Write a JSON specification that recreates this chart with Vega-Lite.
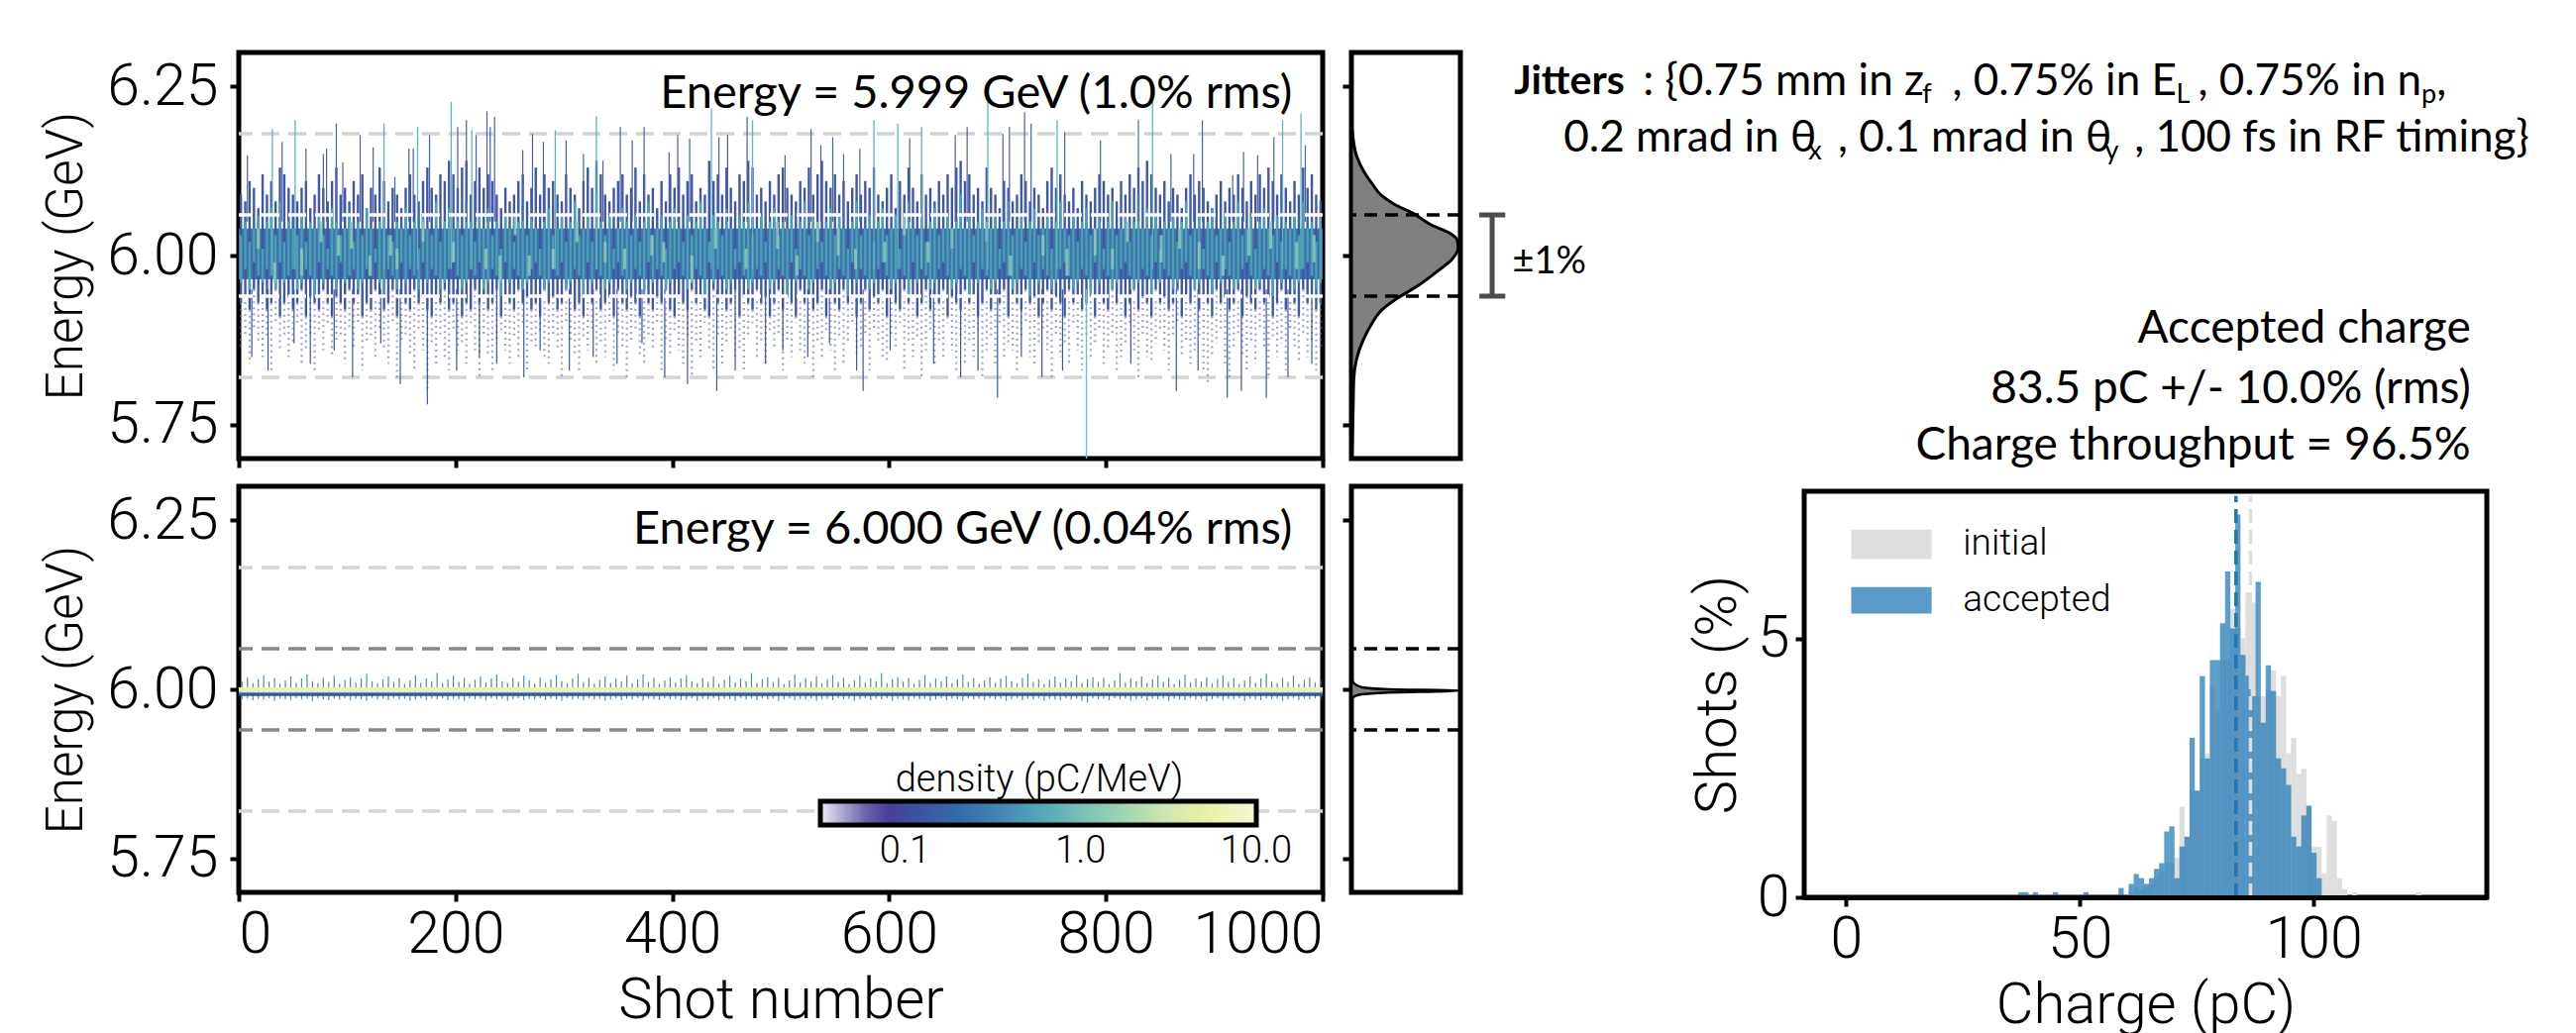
{"$schema":"https://vega.github.io/schema/vega-lite/v6.json","background":"white","padding":{"left":39,"top":50,"right":0,"bottom":0},
"config":{"font":"Roboto","view":{"stroke":"black","strokeWidth":5},"axis":{"grid":false,"domain":false,"tickColor":"black","tickSize":9,"tickWidth":4,"labelFont":"Roboto","labelFontWeight":300,"labelFontSize":59,"labelColor":"black","titleFont":"Roboto","titleFontWeight":300,"titleFontSize":58,"titleColor":"black","labelPadding":12},"text":{"font":"Lato","fontSize":47,"color":"black"}},
"datasets":{"lines":[{"e":5.82},{"e":6.18}],"inner":[{"e":5.94},{"e":6.06}],
"baseA":[{"s":0,"s2":1000,"a":5.965,"b":6.04}],
"rowsA":[{"s":2,"h":6.09,"l":5.93,"f":5.86,"a":5.96,"b":6.03},{"s":6,"h":6.08,"l":5.94,"f":5.88,"a":5.98,"b":6.05},{"s":10,"h":6.11,"l":5.92,"f":5.84,"a":5.95,"b":6.02},{"s":14,"h":6.1,"l":5.95,"f":5.89,"a":5.99,"b":6.04},{"s":18,"h":6.07,"l":5.93,"f":5.87,"a":5.97,"b":6.06},{"s":22,"h":6.12,"l":5.94,"f":5.85,"a":5.96,"b":6.01},{"s":26,"h":6.09,"l":5.92,"f":5.88,"a":5.98,"b":6.05},{"s":30,"h":6.11,"l":5.93,"f":5.83,"a":5.97,"b":6.07},{"s":34,"h":6.08,"l":5.95,"f":5.9,"a":5.95,"b":6.03},{"s":38,"h":6.13,"l":5.91,"f":5.86,"a":5.99,"b":6.08},{"s":42,"h":6.12,"l":5.93,"f":5.88,"a":5.96,"b":6.02},{"s":46,"h":6.1,"l":5.94,"f":5.85,"a":5.97,"b":6.05},{"s":50,"h":6.09,"l":5.92,"f":5.87,"a":5.98,"b":6.04},{"s":54,"h":6.08,"l":5.93,"f":5.9,"a":5.95,"b":6.03},{"s":58,"h":6.1,"l":5.95,"f":5.84,"a":5.96,"b":6.06},{"s":62,"h":6.11,"l":5.91,"f":5.86,"a":5.98,"b":6.02},{"s":66,"h":6.07,"l":5.94,"f":5.88,"a":5.97,"b":6.05},{"s":70,"h":6.09,"l":5.93,"f":5.83,"a":5.94,"b":6.04},{"s":74,"h":6.12,"l":5.92,"f":5.89,"a":5.99,"b":6.06},{"s":78,"h":6.1,"l":5.95,"f":5.86,"a":5.96,"b":6.03},{"s":82,"h":6.08,"l":5.93,"f":5.9,"a":5.98,"b":6.01},{"s":86,"h":6.11,"l":5.91,"f":5.85,"a":5.97,"b":6.07},{"s":90,"h":6.13,"l":5.94,"f":5.87,"a":5.95,"b":6.05},{"s":94,"h":6.09,"l":5.93,"f":5.88,"a":5.99,"b":6.03},{"s":98,"h":6.1,"l":5.92,"f":5.84,"a":5.96,"b":6.04},{"s":102,"h":6.08,"l":5.95,"f":5.89,"a":5.97,"b":6.06},{"s":106,"h":6.11,"l":5.93,"f":5.86,"a":5.98,"b":6.02},{"s":110,"h":6.09,"l":5.94,"f":5.9,"a":5.95,"b":6.05},{"s":114,"h":6.12,"l":5.91,"f":5.83,"a":5.96,"b":6.03},{"s":118,"h":6.07,"l":5.93,"f":5.87,"a":5.98,"b":6.07},{"s":122,"h":6.1,"l":5.92,"f":5.88,"a":5.97,"b":6.04},{"s":126,"h":6.09,"l":5.95,"f":5.85,"a":5.99,"b":6.01},{"s":130,"h":6.13,"l":5.94,"f":5.89,"a":5.96,"b":6.05},{"s":134,"h":6.11,"l":5.92,"f":5.86,"a":5.94,"b":6.06},{"s":138,"h":6.08,"l":5.93,"f":5.84,"a":5.98,"b":6.03},{"s":142,"h":6.1,"l":5.95,"f":5.9,"a":5.97,"b":6.02},{"s":146,"h":6.09,"l":5.91,"f":5.82,"a":5.95,"b":6.05},{"s":150,"h":6.07,"l":5.94,"f":5.87,"a":5.99,"b":6.04},{"s":154,"h":6.1,"l":5.93,"f":5.88,"a":5.96,"b":6.07},{"s":158,"h":6.12,"l":5.92,"f":5.85,"a":5.98,"b":6.03},{"s":162,"h":6.09,"l":5.95,"f":5.83,"a":5.97,"b":6.05},{"s":166,"h":6.08,"l":5.93,"f":5.89,"a":5.95,"b":6.01},{"s":170,"h":6.11,"l":5.94,"f":5.86,"a":5.99,"b":6.06},{"s":174,"h":6.13,"l":5.92,"f":5.8,"a":5.96,"b":6.04},{"s":178,"h":6.1,"l":5.91,"f":5.87,"a":5.98,"b":6.03},{"s":182,"h":6.09,"l":5.94,"f":5.84,"a":5.97,"b":6.08},{"s":186,"h":6.12,"l":5.93,"f":5.88,"a":5.95,"b":6.02},{"s":190,"h":6.11,"l":5.95,"f":5.85,"a":5.96,"b":6.05},{"s":194,"h":6.14,"l":5.92,"f":5.83,"a":5.98,"b":6.07},{"s":198,"h":6.12,"l":5.93,"f":5.89,"a":5.99,"b":6.04},{"s":202,"h":6.1,"l":5.94,"f":5.86,"a":5.97,"b":6.06},{"s":206,"h":6.13,"l":5.91,"f":5.87,"a":5.95,"b":6.03},{"s":210,"h":6.14,"l":5.93,"f":5.84,"a":5.96,"b":6.08},{"s":214,"h":6.09,"l":5.92,"f":5.9,"a":5.98,"b":6.05},{"s":218,"h":6.11,"l":5.95,"f":5.86,"a":5.97,"b":6.02},{"s":222,"h":6.13,"l":5.93,"f":5.82,"a":5.99,"b":6.06},{"s":226,"h":6.1,"l":5.94,"f":5.88,"a":5.95,"b":6.04},{"s":230,"h":6.12,"l":5.92,"f":5.85,"a":5.96,"b":6.07},{"s":234,"h":6.11,"l":5.93,"f":5.83,"a":5.98,"b":6.03},{"s":238,"h":6.09,"l":5.95,"f":5.87,"a":5.97,"b":6.05},{"s":242,"h":6.07,"l":5.91,"f":5.89,"a":5.94,"b":6.01},{"s":246,"h":6.1,"l":5.94,"f":5.86,"a":5.99,"b":6.06},{"s":250,"h":6.08,"l":5.93,"f":5.84,"a":5.96,"b":6.04},{"s":254,"h":6.09,"l":5.92,"f":5.88,"a":5.98,"b":6.02},{"s":258,"h":6.11,"l":5.95,"f":5.85,"a":5.97,"b":6.05},{"s":262,"h":6.12,"l":5.93,"f":5.9,"a":5.95,"b":6.08},{"s":266,"h":6.08,"l":5.94,"f":5.83,"a":5.96,"b":6.03},{"s":270,"h":6.1,"l":5.92,"f":5.87,"a":5.98,"b":6.06},{"s":274,"h":6.13,"l":5.93,"f":5.86,"a":5.99,"b":6.04},{"s":278,"h":6.09,"l":5.91,"f":5.89,"a":5.97,"b":6.01},{"s":282,"h":6.12,"l":5.95,"f":5.85,"a":5.95,"b":6.05},{"s":286,"h":6.1,"l":5.93,"f":5.84,"a":5.96,"b":6.07},{"s":290,"h":6.11,"l":5.94,"f":5.88,"a":5.98,"b":6.03},{"s":294,"h":6.09,"l":5.92,"f":5.86,"a":5.97,"b":6.04},{"s":298,"h":6.08,"l":5.93,"f":5.82,"a":5.99,"b":6.06},{"s":302,"h":6.12,"l":5.95,"f":5.9,"a":5.95,"b":6.02},{"s":306,"h":6.1,"l":5.94,"f":5.87,"a":5.96,"b":6.05},{"s":310,"h":6.09,"l":5.92,"f":5.85,"a":5.98,"b":6.08},{"s":314,"h":6.07,"l":5.93,"f":5.83,"a":5.97,"b":6.03},{"s":318,"h":6.11,"l":5.91,"f":5.88,"a":5.94,"b":6.04},{"s":322,"h":6.13,"l":5.94,"f":5.86,"a":5.99,"b":6.06},{"s":326,"h":6.1,"l":5.93,"f":5.89,"a":5.96,"b":6.02},{"s":330,"h":6.14,"l":5.95,"f":5.84,"a":5.98,"b":6.09},{"s":334,"h":6.12,"l":5.92,"f":5.87,"a":5.97,"b":6.05},{"s":338,"h":6.09,"l":5.93,"f":5.85,"a":5.95,"b":6.03},{"s":342,"h":6.08,"l":5.94,"f":5.9,"a":5.96,"b":6.06},{"s":346,"h":6.1,"l":5.91,"f":5.83,"a":5.98,"b":6.01},{"s":350,"h":6.11,"l":5.95,"f":5.88,"a":5.99,"b":6.04},{"s":354,"h":6.12,"l":5.93,"f":5.86,"a":5.97,"b":6.07},{"s":358,"h":6.09,"l":5.92,"f":5.82,"a":5.95,"b":6.05},{"s":362,"h":6.1,"l":5.94,"f":5.87,"a":5.96,"b":6.03},{"s":366,"h":6.13,"l":5.93,"f":5.89,"a":5.98,"b":6.06},{"s":370,"h":6.08,"l":5.91,"f":5.85,"a":5.97,"b":6.02},{"s":374,"h":6.12,"l":5.95,"f":5.84,"a":5.94,"b":6.05},{"s":378,"h":6.09,"l":5.93,"f":5.88,"a":5.99,"b":6.08},{"s":382,"h":6.1,"l":5.92,"f":5.86,"a":5.96,"b":6.03},{"s":386,"h":6.07,"l":5.94,"f":5.9,"a":5.98,"b":6.04},{"s":390,"h":6.11,"l":5.93,"f":5.83,"a":5.97,"b":6.06},{"s":394,"h":6.08,"l":5.95,"f":5.87,"a":5.95,"b":6.01},{"s":398,"h":6.12,"l":5.92,"f":5.85,"a":5.96,"b":6.05},{"s":402,"h":6.1,"l":5.91,"f":5.89,"a":5.98,"b":6.07},{"s":406,"h":6.13,"l":5.94,"f":5.86,"a":5.99,"b":6.04},{"s":410,"h":6.09,"l":5.93,"f":5.84,"a":5.97,"b":6.02},{"s":414,"h":6.11,"l":5.92,"f":5.88,"a":5.95,"b":6.06},{"s":418,"h":6.12,"l":5.95,"f":5.82,"a":5.96,"b":6.03},{"s":422,"h":6.08,"l":5.93,"f":5.87,"a":5.98,"b":6.05},{"s":426,"h":6.1,"l":5.94,"f":5.85,"a":5.97,"b":6.08},{"s":430,"h":6.09,"l":5.92,"f":5.9,"a":5.94,"b":6.04},{"s":434,"h":6.14,"l":5.91,"f":5.86,"a":5.99,"b":6.02},{"s":438,"h":6.11,"l":5.95,"f":5.83,"a":5.96,"b":6.06},{"s":442,"h":6.12,"l":5.93,"f":5.88,"a":5.98,"b":6.05},{"s":446,"h":6.09,"l":5.94,"f":5.84,"a":5.97,"b":6.03},{"s":450,"h":6.13,"l":5.92,"f":5.87,"a":5.95,"b":6.07},{"s":454,"h":6.1,"l":5.93,"f":5.89,"a":5.96,"b":6.04},{"s":458,"h":6.08,"l":5.95,"f":5.85,"a":5.98,"b":6.01},{"s":462,"h":6.12,"l":5.91,"f":5.86,"a":5.99,"b":6.06},{"s":466,"h":6.11,"l":5.94,"f":5.83,"a":5.97,"b":6.05},{"s":470,"h":6.14,"l":5.93,"f":5.88,"a":5.95,"b":6.08},{"s":474,"h":6.13,"l":5.92,"f":5.9,"a":5.96,"b":6.03},{"s":478,"h":6.09,"l":5.95,"f":5.85,"a":5.98,"b":6.04},{"s":482,"h":6.1,"l":5.93,"f":5.87,"a":5.97,"b":6.06},{"s":486,"h":6.08,"l":5.94,"f":5.84,"a":5.99,"b":6.02},{"s":490,"h":6.11,"l":5.91,"f":5.89,"a":5.95,"b":6.05},{"s":494,"h":6.09,"l":5.93,"f":5.86,"a":5.96,"b":6.07},{"s":498,"h":6.12,"l":5.95,"f":5.88,"a":5.98,"b":6.03},{"s":502,"h":6.13,"l":5.92,"f":5.83,"a":5.97,"b":6.05},{"s":506,"h":6.1,"l":5.94,"f":5.87,"a":5.94,"b":6.04},{"s":510,"h":6.09,"l":5.93,"f":5.85,"a":5.99,"b":6.06},{"s":514,"h":6.08,"l":5.91,"f":5.9,"a":5.96,"b":6.01},{"s":518,"h":6.11,"l":5.95,"f":5.86,"a":5.98,"b":6.05},{"s":522,"h":6.1,"l":5.93,"f":5.84,"a":5.97,"b":6.08},{"s":526,"h":6.13,"l":5.94,"f":5.88,"a":5.95,"b":6.03},{"s":530,"h":6.09,"l":5.92,"f":5.82,"a":5.96,"b":6.06},{"s":534,"h":6.12,"l":5.93,"f":5.87,"a":5.98,"b":6.04},{"s":538,"h":6.14,"l":5.95,"f":5.85,"a":5.99,"b":6.02},{"s":542,"h":6.11,"l":5.91,"f":5.89,"a":5.97,"b":6.05},{"s":546,"h":6.1,"l":5.94,"f":5.86,"a":5.95,"b":6.07},{"s":550,"h":6.12,"l":5.93,"f":5.83,"a":5.96,"b":6.03},{"s":554,"h":6.09,"l":5.92,"f":5.88,"a":5.98,"b":6.06},{"s":558,"h":6.11,"l":5.95,"f":5.84,"a":5.97,"b":6.04},{"s":562,"h":6.08,"l":5.93,"f":5.87,"a":5.94,"b":6.01},{"s":566,"h":6.1,"l":5.94,"f":5.9,"a":5.99,"b":6.05},{"s":570,"h":6.12,"l":5.91,"f":5.85,"a":5.96,"b":6.08},{"s":574,"h":6.09,"l":5.93,"f":5.86,"a":5.98,"b":6.03},{"s":578,"h":6.11,"l":5.95,"f":5.88,"a":5.97,"b":6.04},{"s":582,"h":6.1,"l":5.92,"f":5.83,"a":5.95,"b":6.06},{"s":586,"h":6.13,"l":5.94,"f":5.89,"a":5.96,"b":6.02},{"s":590,"h":6.09,"l":5.93,"f":5.87,"a":5.98,"b":6.05},{"s":594,"h":6.08,"l":5.95,"f":5.85,"a":5.99,"b":6.07},{"s":598,"h":6.1,"l":5.91,"f":5.84,"a":5.97,"b":6.03},{"s":602,"h":6.12,"l":5.94,"f":5.88,"a":5.95,"b":6.04},{"s":606,"h":6.07,"l":5.93,"f":5.86,"a":5.96,"b":6.06},{"s":610,"h":6.11,"l":5.92,"f":5.9,"a":5.98,"b":6.01},{"s":614,"h":6.09,"l":5.95,"f":5.83,"a":5.97,"b":6.05},{"s":618,"h":6.13,"l":5.93,"f":5.87,"a":5.94,"b":6.08},{"s":622,"h":6.1,"l":5.94,"f":5.85,"a":5.99,"b":6.04},{"s":626,"h":6.08,"l":5.91,"f":5.88,"a":5.96,"b":6.03},{"s":630,"h":6.12,"l":5.93,"f":5.82,"a":5.98,"b":6.06},{"s":634,"h":6.09,"l":5.95,"f":5.86,"a":5.97,"b":6.02},{"s":638,"h":6.1,"l":5.92,"f":5.89,"a":5.95,"b":6.05},{"s":642,"h":6.08,"l":5.94,"f":5.84,"a":5.96,"b":6.07},{"s":646,"h":6.11,"l":5.93,"f":5.87,"a":5.98,"b":6.03},{"s":650,"h":6.09,"l":5.95,"f":5.85,"a":5.99,"b":6.04},{"s":654,"h":6.12,"l":5.91,"f":5.9,"a":5.97,"b":6.06},{"s":658,"h":6.1,"l":5.94,"f":5.86,"a":5.95,"b":6.01},{"s":662,"h":6.13,"l":5.93,"f":5.83,"a":5.96,"b":6.05},{"s":666,"h":6.14,"l":5.92,"f":5.88,"a":5.98,"b":6.09},{"s":670,"h":6.11,"l":5.95,"f":5.84,"a":5.97,"b":6.04},{"s":674,"h":6.12,"l":5.93,"f":5.87,"a":5.94,"b":6.06},{"s":678,"h":6.09,"l":5.94,"f":5.85,"a":5.99,"b":6.03},{"s":682,"h":6.1,"l":5.91,"f":5.89,"a":5.96,"b":6.05},{"s":686,"h":6.08,"l":5.93,"f":5.82,"a":5.98,"b":6.07},{"s":690,"h":6.13,"l":5.95,"f":5.86,"a":5.97,"b":6.02},{"s":694,"h":6.1,"l":5.92,"f":5.88,"a":5.95,"b":6.04},{"s":698,"h":6.09,"l":5.94,"f":5.84,"a":5.96,"b":6.06},{"s":702,"h":6.07,"l":5.93,"f":5.9,"a":5.98,"b":6.01},{"s":706,"h":6.11,"l":5.95,"f":5.85,"a":5.99,"b":6.05},{"s":710,"h":6.1,"l":5.91,"f":5.87,"a":5.97,"b":6.08},{"s":714,"h":6.08,"l":5.94,"f":5.86,"a":5.95,"b":6.03},{"s":718,"h":6.09,"l":5.93,"f":5.83,"a":5.96,"b":6.04},{"s":722,"h":6.12,"l":5.92,"f":5.88,"a":5.98,"b":6.06},{"s":726,"h":6.11,"l":5.95,"f":5.9,"a":5.97,"b":6.02},{"s":730,"h":6.08,"l":5.93,"f":5.85,"a":5.94,"b":6.05},{"s":734,"h":6.1,"l":5.94,"f":5.84,"a":5.99,"b":6.07},{"s":738,"h":6.09,"l":5.91,"f":5.87,"a":5.96,"b":6.03},{"s":742,"h":6.07,"l":5.93,"f":5.89,"a":5.98,"b":6.04},{"s":746,"h":6.11,"l":5.95,"f":5.86,"a":5.97,"b":6.06},{"s":750,"h":6.13,"l":5.92,"f":5.82,"a":5.95,"b":6.01},{"s":754,"h":6.1,"l":5.94,"f":5.88,"a":5.96,"b":6.05},{"s":758,"h":6.12,"l":5.93,"f":5.85,"a":5.98,"b":6.08},{"s":762,"h":6.09,"l":5.91,"f":5.87,"a":5.99,"b":6.04},{"s":766,"h":6.08,"l":5.95,"f":5.84,"a":5.97,"b":6.03},{"s":770,"h":6.1,"l":5.93,"f":5.9,"a":5.95,"b":6.06},{"s":774,"h":6.07,"l":5.94,"f":5.86,"a":5.96,"b":6.02},{"s":778,"h":6.11,"l":5.92,"f":5.83,"a":5.98,"b":6.05},{"s":782,"h":6.09,"l":5.93,"f":5.88,"a":5.97,"b":6.07},{"s":786,"h":6.08,"l":5.95,"f":5.85,"a":5.94,"b":6.03},{"s":790,"h":6.1,"l":5.91,"f":5.87,"a":5.99,"b":6.04},{"s":794,"h":6.12,"l":5.94,"f":5.89,"a":5.96,"b":6.06},{"s":798,"h":6.11,"l":5.93,"f":5.84,"a":5.98,"b":6.01},{"s":802,"h":6.09,"l":5.92,"f":5.86,"a":5.97,"b":6.05},{"s":806,"h":6.1,"l":5.95,"f":5.88,"a":5.95,"b":6.08},{"s":810,"h":6.08,"l":5.93,"f":5.83,"a":5.96,"b":6.03},{"s":814,"h":6.11,"l":5.94,"f":5.85,"a":5.98,"b":6.04},{"s":818,"h":6.09,"l":5.91,"f":5.87,"a":5.99,"b":6.06},{"s":822,"h":6.12,"l":5.93,"f":5.9,"a":5.97,"b":6.02},{"s":826,"h":6.1,"l":5.95,"f":5.86,"a":5.95,"b":6.05},{"s":830,"h":6.13,"l":5.92,"f":5.82,"a":5.96,"b":6.09},{"s":834,"h":6.11,"l":5.94,"f":5.88,"a":5.98,"b":6.04},{"s":838,"h":6.14,"l":5.93,"f":5.85,"a":5.97,"b":6.07},{"s":842,"h":6.12,"l":5.91,"f":5.84,"a":5.94,"b":6.03},{"s":846,"h":6.1,"l":5.95,"f":5.87,"a":5.99,"b":6.06},{"s":850,"h":6.09,"l":5.93,"f":5.89,"a":5.96,"b":6.01},{"s":854,"h":6.11,"l":5.94,"f":5.86,"a":5.98,"b":6.05},{"s":858,"h":6.08,"l":5.92,"f":5.83,"a":5.97,"b":6.04},{"s":862,"h":6.1,"l":5.93,"f":5.88,"a":5.95,"b":6.06},{"s":866,"h":6.09,"l":5.95,"f":5.9,"a":5.96,"b":6.02},{"s":870,"h":6.07,"l":5.91,"f":5.85,"a":5.98,"b":6.05},{"s":874,"h":6.1,"l":5.94,"f":5.87,"a":5.99,"b":6.08},{"s":878,"h":6.12,"l":5.93,"f":5.84,"a":5.97,"b":6.03},{"s":882,"h":6.09,"l":5.95,"f":5.86,"a":5.95,"b":6.04},{"s":886,"h":6.11,"l":5.92,"f":5.88,"a":5.96,"b":6.06},{"s":890,"h":6.1,"l":5.94,"f":5.83,"a":5.98,"b":6.01},{"s":894,"h":6.08,"l":5.93,"f":5.81,"a":5.97,"b":6.05},{"s":898,"h":6.07,"l":5.91,"f":5.85,"a":5.94,"b":6.07},{"s":902,"h":6.09,"l":5.95,"f":5.87,"a":5.99,"b":6.03},{"s":906,"h":6.11,"l":5.93,"f":5.89,"a":5.96,"b":6.04},{"s":910,"h":6.08,"l":5.94,"f":5.84,"a":5.98,"b":6.06},{"s":914,"h":6.1,"l":5.92,"f":5.82,"a":5.97,"b":6.02},{"s":918,"h":6.09,"l":5.93,"f":5.86,"a":5.95,"b":6.05},{"s":922,"h":6.12,"l":5.95,"f":5.88,"a":5.96,"b":6.08},{"s":926,"h":6.1,"l":5.91,"f":5.85,"a":5.98,"b":6.03},{"s":930,"h":6.08,"l":5.94,"f":5.83,"a":5.99,"b":6.04},{"s":934,"h":6.11,"l":5.93,"f":5.87,"a":5.97,"b":6.06},{"s":938,"h":6.09,"l":5.92,"f":5.84,"a":5.95,"b":6.01},{"s":942,"h":6.12,"l":5.95,"f":5.89,"a":5.96,"b":6.05},{"s":946,"h":6.1,"l":5.93,"f":5.86,"a":5.98,"b":6.07},{"s":950,"h":6.13,"l":5.94,"f":5.82,"a":5.97,"b":6.04},{"s":954,"h":6.11,"l":5.91,"f":5.88,"a":5.94,"b":6.03},{"s":958,"h":6.09,"l":5.93,"f":5.85,"a":5.99,"b":6.06},{"s":962,"h":6.12,"l":5.95,"f":5.87,"a":5.96,"b":6.02},{"s":966,"h":6.1,"l":5.92,"f":5.83,"a":5.98,"b":6.05},{"s":970,"h":6.08,"l":5.94,"f":5.89,"a":5.97,"b":6.04},{"s":974,"h":6.11,"l":5.93,"f":5.86,"a":5.95,"b":6.06},{"s":978,"h":6.09,"l":5.91,"f":5.84,"a":5.96,"b":6.03},{"s":982,"h":6.13,"l":5.95,"f":5.88,"a":5.98,"b":6.08},{"s":986,"h":6.1,"l":5.93,"f":5.85,"a":5.99,"b":6.04},{"s":990,"h":6.12,"l":5.94,"f":5.87,"a":5.97,"b":6.05},{"s":994,"h":6.09,"l":5.92,"f":5.83,"a":5.95,"b":6.02},{"s":998,"h":6.08,"l":5.93,"f":5.86,"a":5.96,"b":6.06}],
"mint":[{"s":18,"a":6.01,"b":6.04},{"s":33,"a":5.96,"b":5.99},{"s":58,"a":5.97,"b":6.01},{"s":76,"a":6.02,"b":6.05},{"s":92,"a":6.0,"b":6.03},{"s":104,"a":6.01,"b":6.05},{"s":121,"a":5.97,"b":6.0},{"s":140,"a":6.0,"b":6.03},{"s":146,"a":5.98,"b":6.01},{"s":170,"a":6.02,"b":6.05},{"s":198,"a":5.99,"b":6.02},{"s":228,"a":5.98,"b":6.01},{"s":241,"a":5.96,"b":6.0},{"s":255,"a":6.03,"b":6.06},{"s":268,"a":5.97,"b":6.0},{"s":290,"a":5.98,"b":6.01},{"s":312,"a":6.02,"b":6.05},{"s":338,"a":5.99,"b":6.02},{"s":356,"a":5.98,"b":6.01},{"s":381,"a":6.0,"b":6.03},{"s":392,"a":5.99,"b":6.02},{"s":418,"a":5.96,"b":6.0},{"s":440,"a":6.01,"b":6.04},{"s":468,"a":5.98,"b":6.01},{"s":497,"a":6.01,"b":6.05},{"s":515,"a":5.97,"b":6.0},{"s":534,"a":6.02,"b":6.05},{"s":553,"a":6.0,"b":6.04},{"s":569,"a":5.98,"b":6.01},{"s":596,"a":5.99,"b":6.02},{"s":614,"a":6.03,"b":6.06},{"s":636,"a":5.99,"b":6.02},{"s":658,"a":6.01,"b":6.04},{"s":690,"a":6.02,"b":6.05},{"s":712,"a":5.97,"b":6.0},{"s":742,"a":6.0,"b":6.03},{"s":764,"a":5.97,"b":6.01},{"s":790,"a":6.0,"b":6.04},{"s":806,"a":5.98,"b":6.01},{"s":820,"a":6.02,"b":6.05},{"s":851,"a":5.99,"b":6.03},{"s":868,"a":6.01,"b":6.04},{"s":886,"a":5.98,"b":6.02},{"s":908,"a":5.97,"b":6.0},{"s":932,"a":6.0,"b":6.04},{"s":952,"a":6.01,"b":6.05},{"s":976,"a":5.98,"b":6.02},{"s":992,"a":5.99,"b":6.03}],
"spikes":[{"s":8,"e":6.148,"d":0},{"s":31,"e":6.187,"d":1},{"s":40,"e":6.168,"d":0},{"s":52,"e":6.2,"d":1},{"s":62,"e":6.158,"d":0},{"s":78,"e":6.15,"d":0},{"s":81,"e":6.158,"d":0},{"s":90,"e":6.195,"d":0},{"s":96,"e":6.138,"d":0},{"s":112,"e":6.178,"d":0},{"s":124,"e":6.16,"d":0},{"s":134,"e":6.195,"d":1},{"s":144,"e":6.116,"d":0},{"s":157,"e":6.158,"d":0},{"s":161,"e":6.158,"d":0},{"s":165,"e":6.19,"d":1},{"s":176,"e":6.178,"d":0},{"s":196,"e":6.227,"d":1},{"s":202,"e":6.19,"d":0},{"s":210,"e":6.2,"d":0},{"s":215,"e":6.185,"d":1},{"s":219,"e":6.178,"d":0},{"s":229,"e":6.213,"d":0},{"s":232,"e":6.19,"d":0},{"s":236,"e":6.205,"d":0},{"s":262,"e":6.156,"d":0},{"s":271,"e":6.18,"d":0},{"s":281,"e":6.168,"d":0},{"s":292,"e":6.185,"d":1},{"s":302,"e":6.17,"d":0},{"s":318,"e":6.15,"d":0},{"s":330,"e":6.206,"d":1},{"s":336,"e":6.14,"d":0},{"s":352,"e":6.19,"d":0},{"s":363,"e":6.17,"d":0},{"s":374,"e":6.19,"d":0},{"s":397,"e":6.153,"d":0},{"s":405,"e":6.178,"d":0},{"s":416,"e":6.173,"d":0},{"s":436,"e":6.217,"d":1},{"s":443,"e":6.175,"d":0},{"s":451,"e":6.178,"d":0},{"s":469,"e":6.205,"d":0},{"s":474,"e":6.2,"d":1},{"s":504,"e":6.148,"d":0},{"s":528,"e":6.187,"d":0},{"s":537,"e":6.163,"d":0},{"s":548,"e":6.175,"d":0},{"s":558,"e":6.15,"d":0},{"s":573,"e":6.158,"d":0},{"s":586,"e":6.2,"d":1},{"s":608,"e":6.195,"d":1},{"s":619,"e":6.173,"d":0},{"s":630,"e":6.19,"d":1},{"s":661,"e":6.178,"d":0},{"s":672,"e":6.19,"d":0},{"s":691,"e":6.229,"d":1},{"s":705,"e":6.18,"d":0},{"s":711,"e":6.19,"d":0},{"s":725,"e":6.212,"d":0},{"s":731,"e":6.195,"d":0},{"s":755,"e":6.2,"d":1},{"s":762,"e":6.182,"d":0},{"s":795,"e":6.17,"d":0},{"s":830,"e":6.2,"d":0},{"s":843,"e":6.227,"d":1},{"s":860,"e":6.15,"d":0},{"s":881,"e":6.15,"d":0},{"s":889,"e":6.2,"d":0},{"s":917,"e":6.119,"d":0},{"s":927,"e":6.153,"d":0},{"s":940,"e":6.148,"d":0},{"s":955,"e":6.175,"d":0},{"s":963,"e":6.2,"d":1},{"s":980,"e":6.21,"d":1},{"s":984,"e":6.163,"d":0}],
"streaks":[{"s":12,"e":5.85},{"s":27,"e":5.83},{"s":51,"e":5.87},{"s":66,"e":5.84},{"s":88,"e":5.86},{"s":105,"e":5.82},{"s":131,"e":5.87},{"s":149,"e":5.81},{"s":174,"e":5.78},{"s":201,"e":5.83},{"s":222,"e":5.85},{"s":238,"e":5.84},{"s":263,"e":5.82},{"s":278,"e":5.86},{"s":305,"e":5.83},{"s":327,"e":5.85},{"s":349,"e":5.84},{"s":372,"e":5.87},{"s":393,"e":5.82},{"s":414,"e":5.81},{"s":441,"e":5.8},{"s":458,"e":5.83},{"s":486,"e":5.84},{"s":502,"e":5.86},{"s":525,"e":5.85},{"s":545,"e":5.87},{"s":570,"e":5.83},{"s":576,"e":5.8},{"s":601,"e":5.86},{"s":641,"e":5.84},{"s":666,"e":5.82},{"s":682,"e":5.83},{"s":700,"e":5.79},{"s":722,"e":5.85},{"s":741,"e":5.82},{"s":760,"e":5.83},{"s":823,"e":5.84},{"s":865,"e":5.8},{"s":885,"e":5.83},{"s":912,"e":5.79},{"s":925,"e":5.8},{"s":948,"e":5.79},{"s":968,"e":5.82},{"s":990,"e":5.84}],
"deep":[{"s":782,"e":5.7}],
"rowsB":[{"s":3,"u":6.012,"v":5.985},{"s":8,"u":6.018,"v":5.987},{"s":13,"u":6.009,"v":5.984},{"s":18,"u":6.015,"v":5.986},{"s":23,"u":6.021,"v":5.985},{"s":28,"u":6.011,"v":5.987},{"s":33,"u":6.017,"v":5.983},{"s":38,"u":6.008,"v":5.986},{"s":43,"u":6.013,"v":5.985},{"s":48,"u":6.019,"v":5.984},{"s":53,"u":6.01,"v":5.987},{"s":58,"u":6.016,"v":5.985},{"s":63,"u":6.022,"v":5.986},{"s":68,"u":6.012,"v":5.983},{"s":73,"u":6.009,"v":5.987},{"s":78,"u":6.017,"v":5.985},{"s":83,"u":6.011,"v":5.984},{"s":88,"u":6.02,"v":5.986},{"s":93,"u":6.008,"v":5.985},{"s":98,"u":6.014,"v":5.987},{"s":103,"u":6.018,"v":5.984},{"s":108,"u":6.01,"v":5.986},{"s":113,"u":6.016,"v":5.985},{"s":118,"u":6.023,"v":5.983},{"s":123,"u":6.012,"v":5.987},{"s":128,"u":6.009,"v":5.985},{"s":133,"u":6.015,"v":5.986},{"s":138,"u":6.019,"v":5.984},{"s":143,"u":6.011,"v":5.987},{"s":148,"u":6.017,"v":5.985},{"s":153,"u":6.008,"v":5.986},{"s":158,"u":6.013,"v":5.983},{"s":163,"u":6.021,"v":5.985},{"s":168,"u":6.01,"v":5.987},{"s":173,"u":6.016,"v":5.984},{"s":178,"u":6.012,"v":5.986},{"s":183,"u":6.024,"v":5.985},{"s":188,"u":6.009,"v":5.987},{"s":193,"u":6.015,"v":5.984},{"s":198,"u":6.02,"v":5.986},{"s":203,"u":6.011,"v":5.985},{"s":208,"u":6.017,"v":5.983},{"s":213,"u":6.008,"v":5.987},{"s":218,"u":6.014,"v":5.985},{"s":223,"u":6.019,"v":5.986},{"s":228,"u":6.01,"v":5.984},{"s":233,"u":6.016,"v":5.987},{"s":238,"u":6.022,"v":5.985},{"s":243,"u":6.012,"v":5.986},{"s":248,"u":6.009,"v":5.983},{"s":253,"u":6.017,"v":5.985},{"s":258,"u":6.011,"v":5.987},{"s":263,"u":6.02,"v":5.984},{"s":268,"u":6.013,"v":5.986},{"s":273,"u":6.008,"v":5.985},{"s":278,"u":6.018,"v":5.987},{"s":283,"u":6.01,"v":5.984},{"s":288,"u":6.015,"v":5.986},{"s":293,"u":6.021,"v":5.985},{"s":298,"u":6.012,"v":5.983},{"s":303,"u":6.009,"v":5.987},{"s":308,"u":6.016,"v":5.985},{"s":313,"u":6.023,"v":5.986},{"s":318,"u":6.011,"v":5.984},{"s":323,"u":6.017,"v":5.987},{"s":328,"u":6.008,"v":5.985},{"s":333,"u":6.014,"v":5.986},{"s":338,"u":6.019,"v":5.983},{"s":343,"u":6.01,"v":5.985},{"s":348,"u":6.016,"v":5.987},{"s":353,"u":6.012,"v":5.984},{"s":358,"u":6.02,"v":5.986},{"s":363,"u":6.009,"v":5.985},{"s":368,"u":6.015,"v":5.987},{"s":373,"u":6.022,"v":5.983},{"s":378,"u":6.011,"v":5.986},{"s":383,"u":6.017,"v":5.985},{"s":388,"u":6.008,"v":5.984},{"s":393,"u":6.013,"v":5.987},{"s":398,"u":6.018,"v":5.985},{"s":403,"u":6.01,"v":5.986},{"s":408,"u":6.016,"v":5.984},{"s":413,"u":6.021,"v":5.985},{"s":418,"u":6.012,"v":5.987},{"s":423,"u":6.009,"v":5.983},{"s":428,"u":6.017,"v":5.986},{"s":433,"u":6.011,"v":5.985},{"s":438,"u":6.019,"v":5.987},{"s":443,"u":6.008,"v":5.984},{"s":448,"u":6.014,"v":5.986},{"s":453,"u":6.02,"v":5.985},{"s":458,"u":6.01,"v":5.983},{"s":463,"u":6.016,"v":5.987},{"s":468,"u":6.012,"v":5.985},{"s":473,"u":6.024,"v":5.986},{"s":478,"u":6.009,"v":5.984},{"s":483,"u":6.015,"v":5.987},{"s":488,"u":6.018,"v":5.985},{"s":493,"u":6.011,"v":5.986},{"s":498,"u":6.017,"v":5.983},{"s":503,"u":6.008,"v":5.985},{"s":508,"u":6.013,"v":5.987},{"s":513,"u":6.022,"v":5.984},{"s":518,"u":6.01,"v":5.986},{"s":523,"u":6.016,"v":5.985},{"s":528,"u":6.012,"v":5.987},{"s":533,"u":6.019,"v":5.983},{"s":538,"u":6.009,"v":5.985},{"s":543,"u":6.015,"v":5.986},{"s":548,"u":6.021,"v":5.984},{"s":553,"u":6.011,"v":5.987},{"s":558,"u":6.017,"v":5.985},{"s":563,"u":6.008,"v":5.986},{"s":568,"u":6.013,"v":5.983},{"s":573,"u":6.02,"v":5.985},{"s":578,"u":6.01,"v":5.987},{"s":583,"u":6.016,"v":5.984},{"s":588,"u":6.012,"v":5.986},{"s":593,"u":6.024,"v":5.985},{"s":598,"u":6.009,"v":5.987},{"s":603,"u":6.015,"v":5.983},{"s":608,"u":6.018,"v":5.986},{"s":613,"u":6.011,"v":5.985},{"s":618,"u":6.017,"v":5.984},{"s":623,"u":6.008,"v":5.987},{"s":628,"u":6.014,"v":5.985},{"s":633,"u":6.021,"v":5.986},{"s":638,"u":6.01,"v":5.983},{"s":643,"u":6.016,"v":5.985},{"s":648,"u":6.012,"v":5.987},{"s":653,"u":6.019,"v":5.984},{"s":658,"u":6.009,"v":5.986},{"s":663,"u":6.015,"v":5.985},{"s":668,"u":6.022,"v":5.983},{"s":673,"u":6.011,"v":5.987},{"s":678,"u":6.017,"v":5.985},{"s":683,"u":6.008,"v":5.986},{"s":688,"u":6.013,"v":5.984},{"s":693,"u":6.018,"v":5.987},{"s":698,"u":6.01,"v":5.985},{"s":703,"u":6.016,"v":5.986},{"s":708,"u":6.02,"v":5.983},{"s":713,"u":6.012,"v":5.985},{"s":718,"u":6.009,"v":5.987},{"s":723,"u":6.017,"v":5.984},{"s":728,"u":6.023,"v":5.986},{"s":733,"u":6.011,"v":5.985},{"s":738,"u":6.015,"v":5.987},{"s":743,"u":6.008,"v":5.983},{"s":748,"u":6.014,"v":5.986},{"s":753,"u":6.019,"v":5.985},{"s":758,"u":6.01,"v":5.984},{"s":763,"u":6.016,"v":5.987},{"s":768,"u":6.012,"v":5.985},{"s":773,"u":6.021,"v":5.986},{"s":778,"u":6.009,"v":5.983},{"s":783,"u":6.015,"v":5.981},{"s":788,"u":6.018,"v":5.987},{"s":793,"u":6.011,"v":5.985},{"s":798,"u":6.017,"v":5.986},{"s":803,"u":6.008,"v":5.984},{"s":808,"u":6.013,"v":5.987},{"s":813,"u":6.024,"v":5.985},{"s":818,"u":6.01,"v":5.986},{"s":823,"u":6.016,"v":5.983},{"s":828,"u":6.012,"v":5.985},{"s":833,"u":6.019,"v":5.987},{"s":838,"u":6.009,"v":5.984},{"s":843,"u":6.015,"v":5.986},{"s":848,"u":6.02,"v":5.985},{"s":853,"u":6.011,"v":5.987},{"s":858,"u":6.017,"v":5.983},{"s":863,"u":6.008,"v":5.986},{"s":868,"u":6.014,"v":5.985},{"s":873,"u":6.022,"v":5.984},{"s":878,"u":6.01,"v":5.987},{"s":883,"u":6.016,"v":5.985},{"s":888,"u":6.012,"v":5.986},{"s":893,"u":6.018,"v":5.982},{"s":898,"u":6.009,"v":5.985},{"s":903,"u":6.015,"v":5.987},{"s":908,"u":6.021,"v":5.984},{"s":913,"u":6.011,"v":5.986},{"s":918,"u":6.017,"v":5.985},{"s":923,"u":6.008,"v":5.987},{"s":928,"u":6.013,"v":5.983},{"s":933,"u":6.019,"v":5.986},{"s":938,"u":6.01,"v":5.985},{"s":943,"u":6.016,"v":5.984},{"s":948,"u":6.023,"v":5.987},{"s":953,"u":6.012,"v":5.985},{"s":958,"u":6.009,"v":5.986},{"s":963,"u":6.017,"v":5.983},{"s":968,"u":6.011,"v":5.985},{"s":973,"u":6.02,"v":5.987},{"s":978,"u":6.008,"v":5.984},{"s":983,"u":6.014,"v":5.986},{"s":988,"u":6.018,"v":5.985},{"s":993,"u":6.01,"v":5.987},{"s":998,"u":6.015,"v":5.984}],
"band":[{"s":0,"s2":1000,"a":5.99,"b":5.994,"d":0.13},{"s":0,"s2":1000,"a":5.994,"b":5.996,"d":0.5},{"s":0,"s2":1000,"a":5.996,"b":6.003,"d":6}],
"cbticks":[{"s":551.6,"b":5.805,"t":5.813},{"s":567.1,"b":5.805,"t":5.813},{"s":579.9,"b":5.805,"t":5.813},{"s":590.9,"b":5.805,"t":5.813},{"s":600,"b":5.805,"t":5.813},{"s":608.2,"b":5.805,"t":5.813},{"s":615.5,"b":5.805,"t":5.824},{"s":663.9,"b":5.805,"t":5.813},{"s":692.2,"b":5.805,"t":5.813},{"s":712.3,"b":5.805,"t":5.813},{"s":727.9,"b":5.805,"t":5.813},{"s":740.6,"b":5.805,"t":5.813},{"s":751.6,"b":5.805,"t":5.813},{"s":760.7,"b":5.805,"t":5.813},{"s":768.9,"b":5.805,"t":5.813},{"s":776.3,"b":5.805,"t":5.824},{"s":824.7,"b":5.805,"t":5.813},{"s":853,"b":5.805,"t":5.813},{"s":873,"b":5.805,"t":5.813},{"s":888.6,"b":5.805,"t":5.813},{"s":901.4,"b":5.805,"t":5.813},{"s":912.3,"b":5.805,"t":5.813},{"s":921.5,"b":5.805,"t":5.813},{"s":929.7,"b":5.805,"t":5.813}],
"profA":[{"e":5.71,"p":0.005},{"e":5.773,"p":0.016},{"e":5.817,"p":0.022},{"e":5.846,"p":0.047},{"e":5.875,"p":0.11},{"e":5.899,"p":0.19},{"e":5.919,"p":0.28},{"e":5.935,"p":0.41},{"e":5.953,"p":0.6},{"e":5.975,"p":0.79},{"e":5.994,"p":0.94},{"e":6.012,"p":1.0},{"e":6.023,"p":0.99},{"e":6.034,"p":0.91},{"e":6.045,"p":0.75},{"e":6.063,"p":0.57},{"e":6.075,"p":0.41},{"e":6.089,"p":0.28},{"e":6.107,"p":0.19},{"e":6.126,"p":0.11},{"e":6.148,"p":0.047},{"e":6.173,"p":0.016},{"e":6.198,"p":0.0}],
"profB":[{"e":5.975,"p":0.0},{"e":5.985,"p":0.005},{"e":5.988,"p":0.015},{"e":5.992,"p":0.07},{"e":5.995,"p":0.3},{"e":5.998,"p":1.0},{"e":6.0,"p":0.35},{"e":6.003,"p":0.1},{"e":6.007,"p":0.04},{"e":6.012,"p":0.01},{"e":6.02,"p":0.0}],
"brk":[{"x":1.317,"x2":1.317,"a":5.94,"b":6.06},{"x":1.197,"x2":1.44,"a":6.06,"b":6.06},{"x":1.197,"x2":1.44,"a":5.94,"b":5.94}],
"acc":[{"q":37.4,"h":0.1},{"q":38.49,"h":0.1},{"q":40.5,"h":0.1},{"q":44.8,"h":0.1},{"q":51.3,"h":0.1},{"q":58.83,"h":0.18},{"q":60.99,"h":0.26},{"q":62.08,"h":0.45},{"q":63.17,"h":0.37},{"q":64.26,"h":0.26},{"q":65.34,"h":0.37},{"q":66.43,"h":0.55},{"q":67.51,"h":0.66},{"q":68.6,"h":1.27},{"q":69.69,"h":1.37},{"q":70.77,"h":0.37},{"q":71.86,"h":0.98},{"q":72.94,"h":1.17},{"q":74.03,"h":3.08},{"q":75.12,"h":2.06},{"q":76.2,"h":4.27},{"q":77.29,"h":2.68},{"q":78.37,"h":4.58},{"q":79.46,"h":4.58},{"q":80.55,"h":5.29},{"q":81.63,"h":6.29},{"q":82.72,"h":5.19},{"q":83.8,"h":7.39},{"q":84.89,"h":4.68},{"q":85.98,"h":4.28},{"q":87.06,"h":3.88},{"q":88.15,"h":6.09},{"q":89.23,"h":3.37},{"q":90.32,"h":4.48},{"q":91.41,"h":3.98},{"q":92.49,"h":2.68},{"q":93.58,"h":2.49},{"q":94.66,"h":2.17},{"q":95.75,"h":1.17},{"q":96.84,"h":0.98},{"q":97.92,"h":1.58},{"q":99.01,"h":1.77},{"q":100.09,"h":0.86},{"q":101.18,"h":0.37}],
"ini":[{"q":60.99,"h":0.1},{"q":62.08,"h":0.2},{"q":63.17,"h":0.15},{"q":64.26,"h":0.2},{"q":65.34,"h":0.25},{"q":66.43,"h":0.4},{"q":67.51,"h":0.5},{"q":68.6,"h":0.66},{"q":69.69,"h":0.66},{"q":70.77,"h":0.77},{"q":71.86,"h":1.75},{"q":72.94,"h":1.17},{"q":74.03,"h":2.06},{"q":75.12,"h":2.06},{"q":76.2,"h":2.68},{"q":77.29,"h":2.78},{"q":78.37,"h":4.08},{"q":79.46,"h":3.58},{"q":80.55,"h":4.58},{"q":81.63,"h":4.6},{"q":82.72,"h":5.57},{"q":83.8,"h":5.2},{"q":84.89,"h":5.0},{"q":85.98,"h":5.88},{"q":87.06,"h":5.69},{"q":88.15,"h":3.88},{"q":89.23,"h":3.88},{"q":90.32,"h":4.0},{"q":91.41,"h":4.38},{"q":92.49,"h":3.88},{"q":93.58,"h":4.28},{"q":94.66,"h":2.78},{"q":95.75,"h":3.08},{"q":96.84,"h":2.38},{"q":97.92,"h":2.48},{"q":99.01,"h":1.75},{"q":100.09,"h":0.98},{"q":101.18,"h":0.98},{"q":102.27,"h":0.46},{"q":103.35,"h":1.58},{"q":104.44,"h":1.48},{"q":105.52,"h":0.37},{"q":106.61,"h":0.16},{"q":108.78,"h":0.1},{"q":122.5,"h":0.1}],
"notes":[{"x":-41.9,"y":15.71,"t":": {0.75 mm in z"},{"x":23.3,"y":15.71,"t":", 0.75% in E"},{"x":75.1,"y":15.71,"t":", 0.75% in n"},{"x":125.4,"y":15.71,"t":","},{"x":-58.6,"y":14.62,"t":"0.2 mrad in θ"},{"x":-0.8,"y":14.62,"t":", 0.1 mrad in θ"},{"x":61.7,"y":14.62,"t":", 100 fs in RF timing}"}],
"subs":[{"x":17,"y":15.45,"t":"f"},{"x":70.5,"y":15.45,"t":"L"},{"x":122.2,"y":15.45,"t":"p"},{"x":-7,"y":14.36,"t":"x"},{"x":55.5,"y":14.36,"t":"y"}]},
"spacing":-76,
"hconcat":[{"spacing":11,"vconcat":[
{"spacing":10,"hconcat":[
{"width":1094,"height":410,"layer":[
{"data":{"name":"baseA"},"mark":{"type":"rect","fill":"#3f74ac"},"encoding":{"x":{"field":"s","type":"quantitative","scale":{"domain":[0,1000],"nice":false},"axis":{"values":[0,200,400,600,800,1000],"labels":false,"title":null}},"x2":{"field":"s2"},"y":{"field":"a","type":"quantitative","scale":{"domain":[5.7,6.3],"nice":false,"zero":false},"axis":{"values":[5.75,6.0,6.25],"format":".2f","title":"Energy (GeV)","titleFontSize":51,"titlePadding":14}},"y2":{"field":"b"}}},
{"data":{"name":"lines"},"mark":{"type":"rule","stroke":"#d3d3d3","strokeWidth":3.5,"strokeDash":[18,9]},"encoding":{"y":{"field":"e","type":"quantitative"}}},
{"data":{"name":"rowsA"},"mark":{"type":"rule","stroke":"#7a7ab8","strokeWidth":2.2,"strokeDash":[2,4],"opacity":0.7,"clip":true},"encoding":{"x":{"field":"s","type":"quantitative"},"y":{"field":"l","type":"quantitative"},"y2":{"field":"f"}}},
{"data":{"name":"rowsA"},"mark":{"type":"rule","stroke":"#3f58a6","strokeWidth":2.4,"clip":true},"encoding":{"x":{"field":"s","type":"quantitative"},"y":{"field":"l","type":"quantitative"},"y2":{"field":"h"}}},
{"data":{"name":"rowsA"},"mark":{"type":"rule","stroke":"#4aa0b5","strokeWidth":2.4,"clip":true},"encoding":{"x":{"field":"s","type":"quantitative"},"y":{"field":"a","type":"quantitative"},"y2":{"field":"b"}}},
{"data":{"name":"mint"},"mark":{"type":"rule","stroke":"#8ccbb4","strokeWidth":3,"opacity":0.85,"clip":true},"encoding":{"x":{"field":"s","type":"quantitative"},"y":{"field":"a","type":"quantitative"},"y2":{"field":"b"}}},
{"data":{"name":"streaks"},"mark":{"type":"rule","stroke":"#3f55a5","strokeWidth":1.2,"clip":true},"encoding":{"x":{"field":"s","type":"quantitative"},"y":{"field":"e","type":"quantitative"},"y2":{"datum":5.95}}},
{"data":{"name":"deep"},"mark":{"type":"rule","stroke":"#6fc0c4","strokeWidth":1.4,"clip":true},"encoding":{"x":{"field":"s","type":"quantitative"},"y":{"field":"e","type":"quantitative"},"y2":{"datum":5.95}}},
{"data":{"name":"spikes"},"transform":[{"filter":"datum.d==0"}],"mark":{"type":"rule","stroke":"#4a5fae","strokeWidth":1.2,"clip":true},"encoding":{"x":{"field":"s","type":"quantitative"},"y":{"field":"e","type":"quantitative"},"y2":{"datum":6.05}}},
{"data":{"name":"spikes"},"transform":[{"filter":"datum.d==1"}],"mark":{"type":"rule","stroke":"#5fb3c0","strokeWidth":1.3,"clip":true},"encoding":{"x":{"field":"s","type":"quantitative"},"y":{"field":"e","type":"quantitative"},"y2":{"datum":5.98}}},
{"data":{"name":"inner"},"mark":{"type":"rule","stroke":"white","strokeWidth":3.5,"strokeDash":[18,9]},"encoding":{"y":{"field":"e","type":"quantitative"}}},
{"data":{"values":[{"s":972,"e":6.239,"t":"Energy = 5.999 GeV (1.0% rms)"}]},"mark":{"type":"text","align":"right","baseline":"middle"},"encoding":{"x":{"field":"s","type":"quantitative"},"y":{"field":"e","type":"quantitative"},"text":{"field":"t"}}}]},
{"width":110,"height":410,"layer":[
{"data":{"name":"profA"},"mark":{"type":"area","orient":"horizontal","interpolate":"monotone","fill":"#808080","stroke":"black","strokeWidth":3},"encoding":{"x":{"field":"p","type":"quantitative","scale":{"domain":[0,1.02],"nice":false},"axis":null},"y":{"field":"e","type":"quantitative","scale":{"domain":[5.7,6.3],"nice":false,"zero":false},"axis":{"values":[5.75,6.0,6.25],"labels":false,"title":null}}}},
{"data":{"name":"inner"},"mark":{"type":"rule","stroke":"black","strokeWidth":3.5,"strokeDash":[13,8]},"encoding":{"y":{"field":"e","type":"quantitative"}}},
{"data":{"name":"brk"},"mark":{"type":"rule","stroke":"#4d4d4d","strokeWidth":5},"encoding":{"x":{"field":"x","type":"quantitative","axis":null},"x2":{"field":"x2"},"y":{"field":"a","type":"quantitative"},"y2":{"field":"b"}}},
{"data":{"values":[{"x":1.506,"e":5.99,"t":"±1%"}]},"mark":{"type":"text","align":"left","baseline":"middle","fontSize":38},"encoding":{"x":{"field":"x","type":"quantitative","axis":null},"y":{"field":"e","type":"quantitative"},"text":{"field":"t"}}}]}]},
{"spacing":10,"hconcat":[
{"width":1094,"height":410,"layer":[
{"data":{"name":"lines"},"mark":{"type":"rule","stroke":"#d3d3d3","strokeWidth":3.5,"strokeDash":[18,9]},"encoding":{"y":{"field":"e","type":"quantitative","scale":{"domain":[5.7,6.3],"nice":false,"zero":false},"axis":{"values":[5.75,6.0,6.25],"format":".2f","title":"Energy (GeV)","titleFontSize":51,"titlePadding":14}}}},
{"data":{"name":"inner"},"mark":{"type":"rule","stroke":"#888888","strokeWidth":3.5,"strokeDash":[18,9]},"encoding":{"y":{"field":"e","type":"quantitative"}}},
{"data":{"name":"rowsB"},"mark":{"type":"rule","stroke":"#4a8cb8","strokeWidth":1.2,"clip":true},"encoding":{"x":{"field":"s","type":"quantitative"},"y":{"field":"v","type":"quantitative"},"y2":{"field":"u"}}},
{"data":{"name":"band"},"mark":{"type":"rect"},"encoding":{"x":{"field":"s","type":"quantitative","scale":{"domain":[0,1000],"nice":false},"axis":{"values":[0,200,400,600,800,1000],"format":"d","title":"Shot number","labelPadding":4,"titlePadding":8}},"x2":{"field":"s2"},"y":{"field":"a","type":"quantitative"},"y2":{"field":"b"},"color":{"field":"d","type":"quantitative","scale":{"type":"log","domain":[0.033,0.06,0.08,0.15,0.4,1,3,5,10],"range":["#eeeef5","#6a62a8","#4a3f98","#345a9e","#4a8fb5","#7ac0b8","#cfe5b0","#e8f0aa","#f8f8d0"]},"legend":{"orient":"none","legendX":587,"legendY":716,"direction":"horizontal","gradientLength":440,"gradientThickness":24,"title":"density (pC/MeV)","titleLimit":600,"titleAnchor":"middle","titlePadding":2,"titleFont":"Roboto","titleFontWeight":300,"titleFontSize":38,"titleColor":"black","labelFont":"Roboto","labelFontWeight":300,"labelFontSize":38,"labelColor":"black","labelOffset":8,"labelAlign":"center","values":[0.1,1,10],"format":".1f","gradientStrokeColor":"black","gradientStrokeWidth":5,"encode":{"labels":{"update":{"align":{"value":"center"}}}}}}}},
{"data":{"name":"cbticks"},"mark":{"type":"rule","stroke":"black","strokeWidth":3},"encoding":{"x":{"field":"s","type":"quantitative"},"y":{"field":"b","type":"quantitative"},"y2":{"field":"t"}}},
{"data":{"values":[{"s":972,"e":6.236,"t":"Energy = 6.000 GeV (0.04% rms)"}]},"mark":{"type":"text","align":"right","baseline":"middle"},"encoding":{"x":{"field":"s","type":"quantitative"},"y":{"field":"e","type":"quantitative"},"text":{"field":"t"}}}]},
{"width":110,"height":410,"layer":[
{"data":{"name":"profB"},"mark":{"type":"area","orient":"horizontal","interpolate":"monotone","fill":"#808080","stroke":"black","strokeWidth":2.5},"encoding":{"x":{"field":"p","type":"quantitative","scale":{"domain":[0,1.02],"nice":false},"axis":null},"y":{"field":"e","type":"quantitative","scale":{"domain":[5.7,6.3],"nice":false,"zero":false},"axis":{"values":[5.75,6.0,6.25],"labels":false,"title":null}}}},
{"data":{"name":"inner"},"mark":{"type":"rule","stroke":"black","strokeWidth":3.5,"strokeDash":[13,8]},"encoding":{"y":{"field":"e","type":"quantitative"}}}]}]}]},
{"spacing":20,"vconcat":[
{"width":689,"height":410,"view":{"stroke":null},"layer":[
{"data":{"values":[{"x":132.6,"y":10.94,"t":"Accepted charge"},{"x":132.6,"y":9.77,"t":"83.5 pC +/- 10.0% (rms)"},{"x":132.6,"y":8.68,"t":"Charge throughput  = 96.5%"}]},"mark":{"type":"text","align":"right","baseline":"middle","fontSize":46},"encoding":{"x":{"field":"x","type":"quantitative","scale":{"domain":[-7.9,136],"nice":false},"axis":null},"y":{"field":"y","type":"quantitative","scale":{"domain":[8.43,16.28],"nice":false,"zero":false},"axis":null},"text":{"field":"t"}}},
{"data":{"values":[{"x":-69.06,"y":15.71,"t":"Jitters"}]},"mark":{"type":"text","align":"left","baseline":"middle","fontWeight":"bold","fontSize":41},"encoding":{"x":{"field":"x","type":"quantitative","axis":null},"y":{"field":"y","type":"quantitative","axis":null},"text":{"field":"t"}}},
{"data":{"name":"notes"},"mark":{"type":"text","align":"left","baseline":"middle","fontSize":44},"encoding":{"x":{"field":"x","type":"quantitative","axis":null},"y":{"field":"y","type":"quantitative","axis":null},"text":{"field":"t"}}},
{"data":{"name":"subs"},"mark":{"type":"text","align":"left","baseline":"middle","fontSize":27},"encoding":{"x":{"field":"x","type":"quantitative","axis":null},"y":{"field":"y","type":"quantitative","axis":null},"text":{"field":"t"}}}]},
{"width":689,"height":410,"layer":[
{"data":{"name":"ini"},"mark":{"type":"bar","size":5.3,"fill":"#dedede"},"encoding":{"x":{"field":"q","type":"quantitative","scale":{"domain":[-7.9,136],"nice":false},"axis":{"values":[0,50,100],"title":"Charge (pC)","domain":true,"domainWidth":5,"domainColor":"black","zindex":1,"labelPadding":4,"titlePadding":8}},"y":{"field":"h","type":"quantitative","scale":{"domain":[0,7.84],"nice":false},"axis":{"values":[0,5],"title":"Shots (%)","labelPadding":6,"titlePadding":10}}}},
{"data":{"name":"acc"},"mark":{"type":"bar","size":5.3,"fill":"#1f77b4","opacity":0.72},"encoding":{"x":{"field":"q","type":"quantitative"},"y":{"field":"h","type":"quantitative"}}},
{"data":{"values":[{"q":86.5,"a":0,"b":7.75}]},"mark":{"type":"rule","stroke":"#dedede","strokeWidth":3.5,"strokeDash":[14,7]},"encoding":{"x":{"field":"q","type":"quantitative"},"y":{"field":"a","type":"quantitative"},"y2":{"field":"b"}}},
{"data":{"values":[{"q":83.4,"a":0,"b":7.75}]},"mark":{"type":"rule","stroke":"#1f77b4","strokeWidth":3.5,"strokeDash":[14,7]},"encoding":{"x":{"field":"q","type":"quantitative"},"y":{"field":"a","type":"quantitative"},"y2":{"field":"b"}}},
{"data":{"values":[{"x":1.1,"x2":18.3,"y":7.1,"y2":6.53}]},"mark":{"type":"rect","fill":"#dedede"},"encoding":{"x":{"field":"x","type":"quantitative"},"x2":{"field":"x2"},"y":{"field":"y","type":"quantitative"},"y2":{"field":"y2"}}},
{"data":{"values":[{"x":1.1,"x2":18.3,"y":5.99,"y2":5.48}]},"mark":{"type":"rect","fill":"#5a9bc9"},"encoding":{"x":{"field":"x","type":"quantitative"},"x2":{"field":"x2"},"y":{"field":"y","type":"quantitative"},"y2":{"field":"y2"}}},
{"data":{"values":[{"x":25,"y":6.83,"t":"initial"},{"x":25,"y":5.74,"t":"accepted"}]},"mark":{"type":"text","align":"left","baseline":"middle","font":"Roboto","fontWeight":300,"fontSize":37},"encoding":{"x":{"field":"x","type":"quantitative"},"y":{"field":"y","type":"quantitative"},"text":{"field":"t"}}}]}]}]}
